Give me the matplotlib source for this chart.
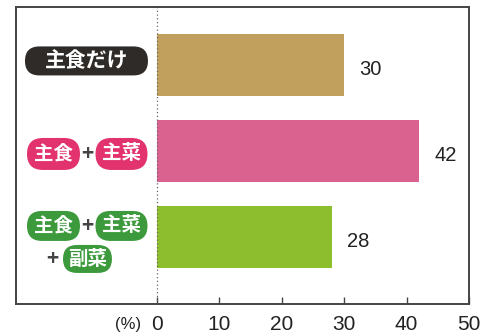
import matplotlib
matplotlib.use("Agg")
import matplotlib.pyplot as plt
import matplotlib.transforms as mtransforms
from matplotlib.patches import FancyBboxPatch

categories = ["主食だけ", "主食+主菜", "主食+主菜+副菜"]
values = [30, 42, 28]
bar_colors = ["#C1A05E", "#D9628F", "#8CBE2E"]
xticks = [0, 10, 20, 30, 40, 50]

JP = ["Noto Sans CJK JP", "DejaVu Sans"]
NUM = "Liberation Sans"

fig = plt.figure(figsize=(4.8, 3.34), dpi=100)
ax = fig.add_axes([0.0333, 0.0898, 0.9437, 0.8892])

ypos = list(range(len(categories)))
ax.barh(ypos, values, height=0.73, color=bar_colors)
ax.set_xlim(-22.6, 50)
ax.set_ylim(2.78, -0.674)

# value labels
for y, v in zip(ypos, values):
	ax.text(v + 2.4, y + 0.05, str(v), fontsize=14.5, family=NUM, color="#222222", va="center", ha="left")

# dotted zero line
ax.axvline(0, color="#666666", lw=0.9, ls=(0, (1, 2)))

ax.set_yticks([])
ax.set_xticks(xticks)
ax.set_xticklabels([str(t) for t in xticks], fontsize=15, family=NUM, color="#222222")
ax.tick_params(axis="x", direction="in", length=5, width=1, color="#444444", pad=8)
for s in ax.spines.values():
	s.set_color("#444444")
	s.set_linewidth(1.4)

ax.text(-4.7, -0.083, "(%)", transform=mtransforms.blended_transform_factory(ax.transData, ax.transAxes),
	fontsize=12, family=NUM, color="#222222", ha="center", va="baseline")

# pill labels on the left
trans = mtransforms.blended_transform_factory(ax.transAxes, ax.transData)

def pill(x, y, text, fc, w, h, fs):
	# w, h in pixels (dpi 100)
	w = w * 0.72
	h = h * 0.72
	t = mtransforms.Affine2D().scale(1 / 72) + fig.dpi_scale_trans + mtransforms.ScaledTranslation(x, y, trans)
	ax.add_patch(FancyBboxPatch((-w / 2, -h / 2), w, h, boxstyle="round,pad=0,rounding_size=%f" % (h / 2),
		fc=fc, ec="none", transform=t, clip_on=False))
	ax.text(x, y, text, transform=trans, ha="center", va="center", fontsize=fs,
		family=JP, weight="bold", color="white")

def plus(x, y):
	ax.text(x, y, "+", transform=trans, ha="center", va="center", fontsize=15,
		family=JP, weight="bold", color="#444444")

pill(0.1556, -0.047, "主食だけ", "#2E2B29", 123, 29, 15)

pink = "#E3336E"
pill(0.0828, 1.035, "主食", pink, 53, 32, 14)
plus(0.1567, 1.035)
pill(0.2329, 1.035, "主菜", pink, 52, 32, 14)

green = "#3C9A3C"
pill(0.0828, 1.872, "主食", green, 53, 30, 14)
plus(0.1567, 1.872)
pill(0.2329, 1.872, "主菜", green, 52, 30, 14)
plus(0.0795, 2.256)
pill(0.1578, 2.256, "副菜", green, 49, 28, 14)

fig.savefig("out.png", dpi=100)
